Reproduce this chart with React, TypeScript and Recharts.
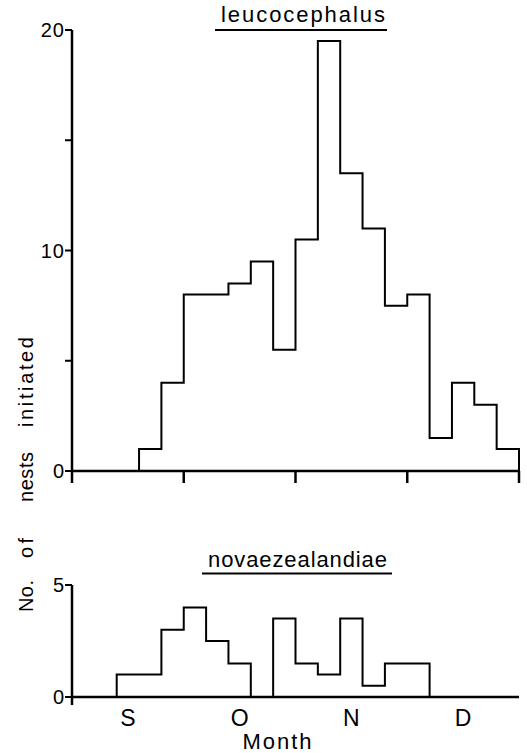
import React from "react";
import { ComposedChart, Line, XAxis, YAxis } from "recharts";

// nests initiated per 6-day bin, Sept through Dec (5 bins per month)
const months = ["S", "O", "N", "D"];
const leucoCounts = [0, 0, 0, 1, 4, 8, 8, 8.5, 9.5, 5.5, 10.5, 19.5, 13.5, 11, 7.5, 8, 1.5, 4, 3, 1];
const novaeCounts = [0, 0, 1, 1, 3, 4, 2.5, 1.5, 0, 3.5, 1.5, 1, 3.5, 0.5, 1.5, 1.5, 0, 0, 0, 0];
const leucoYTicks = [0, 5, 10, 15, 20];
const leucoYLabels = [0, 10, 20];
const novaeYTicks = [0, 5];
const binsPerMonth = 5;

const FONT = '"Liberation Sans", Arial, Helvetica, sans-serif';

// close the outline: last point drops back to zero at the right edge
const toSteps = (counts: number[]) => [
	...counts.map((n, i) => ({ bin: i, n })),
	{ bin: counts.length, n: 0 },
];

const totalBins = leucoCounts.length;
const boundaryTicks = months.map((_, i) => i * binsPerMonth).concat(totalBins);
const bottomTicks = boundaryTicks.concat(months.map((_, i) => i * binsPerMonth + binsPerMonth / 2));

const TopTick = (props: any) => {
	const { x, y } = props;
	return <line x1={x} x2={x} y1={y} y2={y + 12} stroke="#000" strokeWidth={2.5} />;
};

const BottomTick = (props: any) => {
	const { x, y, payload } = props;
	const v = payload.value as number;
	if (v % binsPerMonth === 0) {
		return <line x1={x} x2={x} y1={y} y2={y + 8} stroke="#000" strokeWidth={2.5} />;
	}
	return (
		<text x={x} y={y + 29} textAnchor="middle" fontSize={23} fill="#000" fontFamily={FONT}>
			{months[Math.floor(v / binsPerMonth)]}
		</text>
	);
};

const makeYTick = (shown: number[]) => (props: any) => {
	const { x, y, payload } = props;
	const v = payload.value as number;
	if (!shown.includes(v)) return <g />;
	return (
		<text
			x={x}
			y={y}
			dy="0.36em"
			textAnchor="end"
			fontSize={20}
			letterSpacing={1}
			fill="#000"
			fontFamily={FONT}
		>
			{v}
		</text>
	);
};

const axisLineStyle = { stroke: "#000", strokeWidth: 2.5 };
const tickLineStyle = { stroke: "#000", strokeWidth: 2 };

// y label words: [text, centre y, length]
const yLabelWords: [string, number, number][] = [
	["No.", 596, 32],
	["of", 548, 20],
	["nests", 477, 50],
	["initiated", 382, 90],
];
const yLabelX = 33;

export default function App() {
	return (
		<div
			style={{
				position: "absolute",
				left: 0,
				top: 0,
				width: 527,
				height: 753,
				background: "#fff",
				fontFamily: FONT,
			}}
		>
			<div style={{ position: "absolute", left: 0, top: 0 }}>
				<ComposedChart
					width={527}
					height={490}
					data={toSteps(leucoCounts)}
					margin={{ top: 30, right: 8, bottom: 0, left: 32 }}
				>
					<XAxis
						type="number"
						dataKey="bin"
						domain={[0, totalBins]}
						ticks={boundaryTicks}
						tick={<TopTick />}
						tickLine={false}
						tickSize={0}
						tickMargin={0}
						axisLine={axisLineStyle}
						height={19}
					/>
					<YAxis
						domain={[0, 20]}
						ticks={leucoYTicks}
						tick={makeYTick(leucoYLabels)}
						tickSize={7}
						tickMargin={0}
						tickLine={tickLineStyle}
						axisLine={axisLineStyle}
						width={40}
					/>
					<Line
						type="stepAfter"
						dataKey="n"
						stroke="#000"
						strokeWidth={2}
						dot={false}
						isAnimationActive={false}
					/>
				</ComposedChart>
			</div>

			<div style={{ position: "absolute", left: 0, top: 560 }}>
				<ComposedChart
					width={527}
					height={193}
					data={toSteps(novaeCounts)}
					margin={{ top: 25, right: 8, bottom: 0, left: 32 }}
				>
					<XAxis
						type="number"
						dataKey="bin"
						domain={[0, totalBins]}
						ticks={bottomTicks}
						tick={<BottomTick />}
						tickLine={false}
						tickSize={0}
						tickMargin={0}
						axisLine={axisLineStyle}
						height={56}
					/>
					<YAxis
						domain={[0, 5]}
						ticks={novaeYTicks}
						tick={makeYTick(novaeYTicks)}
						tickSize={7}
						tickMargin={0}
						tickLine={tickLineStyle}
						axisLine={axisLineStyle}
						width={40}
					/>
					<Line
						type="stepAfter"
						dataKey="n"
						stroke="#000"
						strokeWidth={2}
						dot={false}
						isAnimationActive={false}
					/>
				</ComposedChart>
			</div>

			<svg
				width={527}
				height={753}
				style={{ position: "absolute", left: 0, top: 0, pointerEvents: "none" }}
				fontFamily={FONT}
			>
				<text x={303} y={22} textAnchor="middle" fontSize={22} textLength={164} lengthAdjust="spacing">
					leucocephalus
				</text>
				<line x1={215} x2={387} y1={30} y2={30} stroke="#000" strokeWidth={2} />
				<text x={297.5} y={567} textAnchor="middle" fontSize={22} textLength={179} lengthAdjust="spacing">
					novaezealandiae
				</text>
				<line x1={202} x2={392} y1={573.5} y2={573.5} stroke="#000" strokeWidth={2} />
				<text x={277} y={749} textAnchor="middle" fontSize={22} textLength={69} lengthAdjust="spacing">
					Month
				</text>
				{yLabelWords.map(([word, cy, len]) => (
					<text
						key={word}
						x={yLabelX}
						y={cy}
						textAnchor="middle"
						fontSize={20}
						textLength={len}
						lengthAdjust="spacing"
						transform={`rotate(-90, ${yLabelX}, ${cy})`}
					>
						{word}
					</text>
				))}
			</svg>
		</div>
	);
}
